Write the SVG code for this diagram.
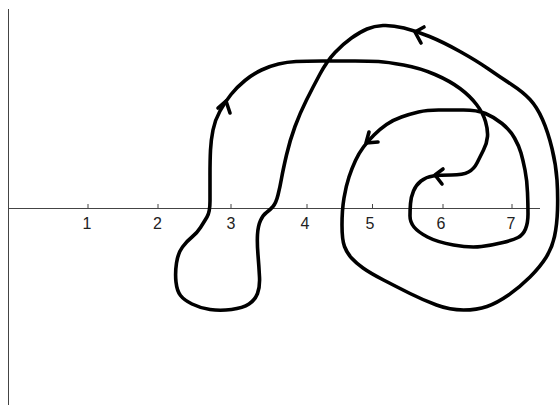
<svg xmlns="http://www.w3.org/2000/svg" width="560" height="405" viewBox="0 0 560 405">
<style>
.axis{stroke:#444;stroke-width:1;fill:none}
.tick{stroke:#444;stroke-width:1}
.lbl{font-family:"Liberation Sans",Arial,sans-serif;font-size:16px;fill:#222;text-anchor:middle}
.curve{stroke:#000;stroke-width:3.6;fill:none;stroke-linejoin:round;stroke-linecap:round}
</style>
<rect width="560" height="405" fill="#fff"/>
<g id="axes">
<line class="axis" x1="8.5" y1="9" x2="8.5" y2="405"/>
<line class="axis" x1="8" y1="208.5" x2="540" y2="208.5"/>
<line class="tick" x1="88" y1="204" x2="88" y2="209"/>
<line class="tick" x1="158" y1="204" x2="158" y2="209"/>
<line class="tick" x1="231" y1="204" x2="231" y2="209"/>
<line class="tick" x1="307" y1="204" x2="307" y2="209"/>
<line class="tick" x1="372.5" y1="204" x2="372.5" y2="209"/>
<line class="tick" x1="443" y1="204" x2="443" y2="209"/>
<line class="tick" x1="512" y1="204" x2="512" y2="209"/>
<text class="lbl" x="87" y="228.5">1</text>
<text class="lbl" x="157.5" y="228.5">2</text>
<text class="lbl" x="231" y="228.5">3</text>
<text class="lbl" x="305" y="228.5">4</text>
<text class="lbl" x="370" y="228.5">5</text>
<text class="lbl" x="441" y="228.5">6</text>
<text class="lbl" x="511" y="228.5">7</text>
</g>
<g id="curve">
<path class="curve" d="M207,217 Q210,212 210,201 Q210,190 210,175 Q210,160 210.5,150 Q211,140 213,130 Q215,120 220,111 Q225,102 231,94.5 Q237,87 245,80.5 Q253,74 261.5,70 Q270,66 278.5,64 Q287,62 296,61.5 Q305,61 322.5,61 Q340,61 355,61 Q370,61 378.5,61.5 Q387,62 403.5,65 Q420,68 435,74.5 Q450,81 460,88.5 Q470,96 476.5,104.5 Q483,113 485.5,121.5 Q488,130 487.5,136.5 Q487,143 483.5,150 Q480,157 477,163 Q474,169 468.5,172 Q463,175 451.5,175 Q440,175 433,176 Q426,177 421,181 Q416,185 413.5,191 Q411,197 410.5,203.5 Q410,210 410,216 Q410,222 414,227 Q418,232 427.5,237 Q437,242 453.5,245 Q470,248 481.5,246.5 Q493,245 503,242.5 Q513,240 518,237.5 Q523,235 525.5,229 Q528,223 528,214 Q528,205 527.5,192.5 Q527,180 525,170 Q523,160 521,153 Q519,146 514.5,138 Q510,130 502,123.5 Q494,117 485.5,113.5 Q477,110 463.5,110 Q450,110 438.5,110 Q427,110 418.5,112 Q410,114 401.5,117 Q393,120 386.5,124.5 Q380,129 374,135 Q368,141 363.5,147 Q359,153 355.5,160.5 Q352,168 349,177 Q346,186 344,198 Q342,210 342,225 Q342,240 344.5,246.5 Q347,253 351.5,258 Q356,263 363,268 Q370,273 383.5,280 Q397,287 410,293.5 Q423,300 436.5,305 Q450,310 463.5,310 Q477,310 487,306.5 Q497,303 508.5,295 Q520,287 530,277 Q540,267 546,257.5 Q552,248 554.5,236.5 Q557,225 557.5,210 Q558,195 557,180 Q556,165 552,148.5 Q548,132 542.5,119.5 Q537,107 530,99.5 Q523,92 511.5,84.5 Q500,77 488.5,69 Q477,61 460,51.5 Q443,42 429.5,36.5 Q416,31 404,28 Q392,25 383,25.5 Q374,26 367,29 Q360,32 351.5,38 Q343,44 335,52.5 Q327,61 320,74 Q313,87 306.5,100 Q300,113 295,126.5 Q290,140 286.5,155 Q283,170 281.5,178.5 Q280,187 278,195 Q276,203 273,206.5 Q270,210 266.5,212.5 Q263,215 260.5,220.5 Q258,226 257.5,234.5 Q257,243 258,255 Q259,267 259.5,277 Q260,287 257.5,293.5 Q255,300 249,304 Q243,308 231.5,309.5 Q220,311 210,309.5 Q200,308 192,304 Q184,300 180.5,295.5 Q177,291 176,282 Q175,273 176.5,263 Q178,253 182.5,247 Q187,241 192,237 Q197,233 200.5,227.5 Q204,222 207,217 Z"/>
</g>
<g id="arrows">
<polyline class="curve" points="218,108 226,101 230,113"/>
<polyline class="curve" points="424,27 415,32 421,43"/>
<polyline class="curve" points="369,132 366,143 378,142"/>
<polyline class="curve" points="443,169 435,175 442,184"/>
</g>
</svg>
